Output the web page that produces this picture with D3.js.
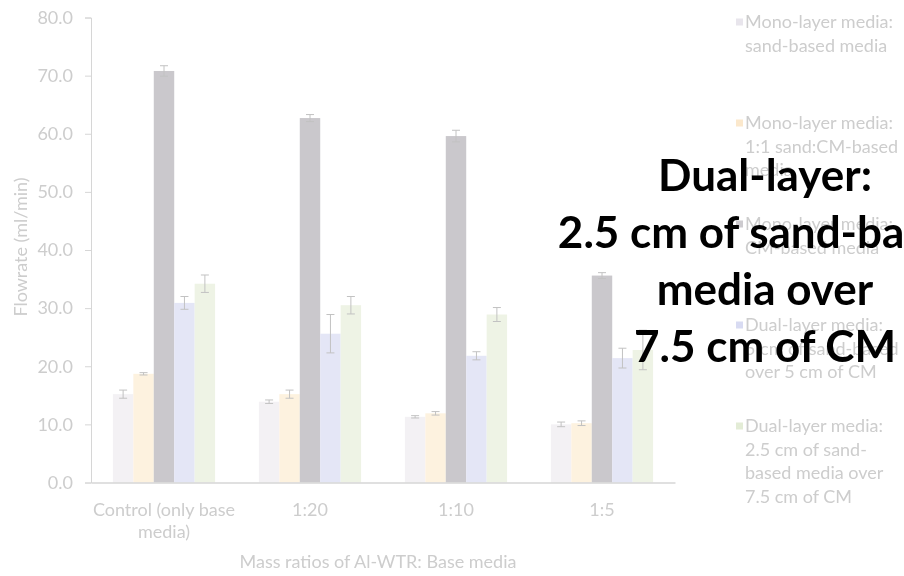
<!DOCTYPE html>
<html>
<head>
<meta charset="utf-8">
<script src="https://cdn.jsdelivr.net/npm/d3@7"></script>
<style>
  html, body { margin: 0; padding: 0; background: #ffffff; }
  svg { display: block; }
  text { font-family: Lato, "Open Sans", sans-serif; }
</style>
</head>
<body>
<svg id="chart" width="904" height="576"></svg>
<script>
// Mass-ratio groups on the x axis
const categories = ["Control (only base media)", "1:20", "1:10", "1:5"];
const categoryLines = [["Control (only base", "media)"], ["1:20"], ["1:10"], ["1:5"]];

// Filter media series (legend text split into its lines)
const seriesKeys = ["sand", "mix", "cm", "dual5", "dual25"];
const seriesLabels = [
  ["Mono-layer media:", "sand-based media"],
  ["Mono-layer media:", "1:1 sand:CM-based", "media"],
  ["Mono-layer media:", "CM-based media"],
  ["Dual-layer media:", "5 cm of sand-based", "over 5 cm of CM"],
  ["Dual-layer media:", "2.5 cm of sand-", "based media over", "7.5 cm of CM"]
];
const seriesColors = ["#f3f1f4", "#fdf2df", "#cac8cc", "#e4e6f6", "#eef3e5"];
const legendColors = ["#e8e5ec", "#fbe8cc", "#cdcbcf", "#d8dbf2", "#e3ecd6"];

// Flowrate means (ml/min), one value per group
const sandValues   = [15.2, 13.9, 11.3, 10.0];
const mixValues    = [18.7, 15.2, 11.9, 10.2];
const cmValues     = [70.8, 62.7, 59.6, 35.6];
const dual5Values  = [30.9, 25.6, 21.8, 21.4];
const dual25Values = [34.2, 30.5, 28.9, 22.8];

// Standard deviations for the error bars
const sandErr   = [0.7, 0.3, 0.2, 0.4];
const mixErr    = [0.2, 0.7, 0.3, 0.4];
const cmErr     = [0.9, 0.6, 1.0, 0.5];
const dual5Err  = [1.1, 3.3, 0.7, 1.7];
const dual25Err = [1.5, 1.5, 1.2, 3.4];

const yTicks = [0, 10, 20, 30, 40, 50, 60, 70, 80];

const yTitle = "Flowrate (ml/min)";
const xTitle = "Mass ratios of Al-WTR: Base media";
const highlightLines = ["Dual-layer:", "2.5 cm of sand-based", "media over", "7.5 cm of CM"];

const valueSets = [sandValues, mixValues, cmValues, dual5Values, dual25Values];
const errSets = [sandErr, mixErr, cmErr, dual5Err, dual25Err];

const rows = [];
categories.forEach((c, gi) => {
  seriesKeys.forEach((k, si) => {
    rows.push({ cat: c, key: k, si, value: valueSets[si][gi], err: errSets[si][gi] });
  });
});

const svg = d3.select("#chart");
const margin = { left: 91, right: 229, top: 17.5, bottom: 93.5 };
const W = 904, H = 576;

// Soft focus for the muted chart underneath the enlarged label
const defs = svg.append("defs");
defs.append("filter").attr("id", "soft")
  .attr("x", "-5%").attr("y", "-5%").attr("width", "110%").attr("height", "110%")
  .append("feGaussianBlur").attr("stdDeviation", 0.45);

const base = svg.append("g").attr("filter", "url(#soft)");

const x = d3.scaleBand()
  .domain(categories)
  .range([margin.left, W - margin.right])
  .paddingInner(0.3)
  .paddingOuter(0.15);

const xInner = d3.scaleBand()
  .domain(seriesKeys)
  .range([0, x.bandwidth()])
  .padding(0);

const y = d3.scaleLinear()
  .domain([0, 80])
  .range([H - margin.bottom, margin.top]);

const textColor = "#cdcdcd";
const axisColor = "#d6d6d6";
const fontSize = 18;

// Bars
base.append("g")
  .selectAll("rect")
  .data(rows)
  .join("rect")
  .attr("x", d => x(d.cat) + xInner(d.key))
  .attr("y", d => y(d.value))
  .attr("width", xInner.bandwidth())
  .attr("height", d => y(0) - y(d.value))
  .attr("fill", d => seriesColors[d.si]);

// Error bars
const eb = base.append("g").attr("stroke", "#c2c2c2").attr("stroke-width", 1);
rows.forEach(d => {
  const cx = x(d.cat) + xInner(d.key) + xInner.bandwidth() / 2;
  const y1 = y(d.value + d.err), y2 = y(d.value - d.err);
  eb.append("line").attr("x1", cx).attr("x2", cx).attr("y1", y1).attr("y2", y2);
  eb.append("line").attr("x1", cx - 4).attr("x2", cx + 4).attr("y1", y1).attr("y2", y1);
  eb.append("line").attr("x1", cx - 4).attr("x2", cx + 4).attr("y1", y2).attr("y2", y2);
});

// Y axis
const yAxis = base.append("g")
  .attr("transform", `translate(${margin.left},0)`)
  .call(d3.axisLeft(y).tickValues(yTicks).tickFormat(d3.format(".1f")).tickSize(6).tickSizeOuter(6));
yAxis.selectAll("path, line").attr("stroke", axisColor);
yAxis.selectAll("text")
  .attr("fill", textColor)
  .attr("font-size", fontSize)
  .attr("x", -18)
  .style("font-family", "Lato, sans-serif");

// X axis
const xAxis = base.append("g")
  .attr("transform", `translate(0,${y(0)})`)
  .call(d3.axisBottom(x).tickSize(0).tickSizeOuter(0));
xAxis.select("path").attr("stroke", axisColor).attr("stroke-width", 1.5);
xAxis.selectAll(".tick text").remove();
xAxis.selectAll(".tick").each(function (d, i) {
  const t = d3.select(this).append("text")
    .attr("fill", textColor)
    .attr("font-size", fontSize)
    .attr("text-anchor", "middle")
    .style("font-family", "Lato, sans-serif");
  categoryLines[i].forEach((line, li) => {
    t.append("tspan").attr("x", 0).attr("y", 33.5 + li * 22).text(line);
  });
});

// Axis titles
base.append("text")
  .attr("transform", `translate(27,247) rotate(-90)`)
  .attr("text-anchor", "middle")
  .attr("fill", textColor)
  .attr("font-size", fontSize)
  .text(yTitle);

base.append("text")
  .attr("x", 378)
  .attr("y", 568)
  .attr("text-anchor", "middle")
  .attr("fill", textColor)
  .attr("font-size", fontSize)
  .text(xTitle);

// Legend
const legend = base.append("g");
seriesLabels.forEach((lines, i) => {
  const mid = 22 + i * 101;
  legend.append("rect")
    .attr("x", 736).attr("y", mid - 3.5).attr("width", 7).attr("height", 7)
    .attr("fill", legendColors[i]);
  lines.forEach((line, li) => {
    legend.append("text")
      .attr("x", 745)
      .attr("y", mid + 6 + li * 23.6)
      .attr("fill", textColor)
      .attr("font-size", fontSize)
      .text(line);
  });
});

// Enlarged label of the highlighted series
const hl = svg.append("g");
highlightLines.forEach((line, i) => {
  hl.append("text")
    .attr("x", 765)
    .attr("y", 191 + i * 57)
    .attr("text-anchor", "middle")
    .attr("fill", "#000000")
    .attr("font-weight", "bold")
    .attr("font-size", 44)
    .text(line);
});
</script>
</body>
</html>
